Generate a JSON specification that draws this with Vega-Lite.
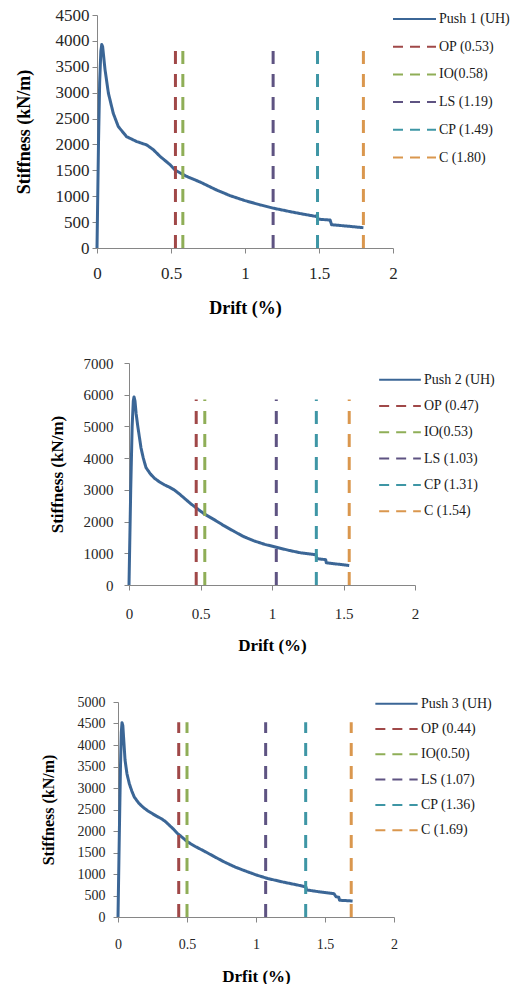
{
  "$schema": "https://vega.github.io/schema/vega-lite/v6.json",
  "padding": {"left": 0, "top": 6, "right": 0, "bottom": 0},
  "background": "white",
  "spacing": 39,
  "config": {
    "view": {"stroke": null},
    "font": "Liberation Serif",
    "axis": {
      "domainColor": "#868686", "tickColor": "#868686", "tickSize": 5, "grid": false,
      "labelColor": "#262626", "titleColor": "#000000",
      "labelFont": "Liberation Serif", "titleFont": "Liberation Serif", "titleFontWeight": "bold",
      "labelFlush": false, "labelOverlap": false, "labelBound": false
    },
    "legend": {
      "labelFont": "Liberation Serif", "labelFontSize": 14, "labelColor": "#1a1a1a",
      "symbolType": "stroke", "symbolSize": 1849, "symbolStrokeWidth": 2,
      "clipHeight": 14, "padding": 0, "labelOffset": 2
    }
  },
  "resolve": {"scale": {"x": "independent", "y": "independent", "color": "independent", "strokeDash": "independent"}},
  "vconcat": [
    {
      "spacing": 0,
      "resolve": {"scale": {"x": "independent", "y": "independent", "color": "independent", "strokeDash": "independent"}},
      "hconcat": [
        {"width": 15, "height": 1, "data": {"values": [{"z": 1}]}, "mark": {"type": "point", "opacity": 0}, "encoding": {}},
        {
          "width": 296, "height": 233,
          "layer": [
            {
              "data": {"values": [
                {"s": "Push 1 (UH)", "d": 0, "k": 0},
                {"s": "Push 1 (UH)", "d": 0.004, "k": 800},
                {"s": "Push 1 (UH)", "d": 0.01, "k": 2000},
                {"s": "Push 1 (UH)", "d": 0.018, "k": 3200},
                {"s": "Push 1 (UH)", "d": 0.026, "k": 3800},
                {"s": "Push 1 (UH)", "d": 0.032, "k": 3930},
                {"s": "Push 1 (UH)", "d": 0.038, "k": 3890},
                {"s": "Push 1 (UH)", "d": 0.045, "k": 3700},
                {"s": "Push 1 (UH)", "d": 0.054, "k": 3450},
                {"s": "Push 1 (UH)", "d": 0.077, "k": 2990},
                {"s": "Push 1 (UH)", "d": 0.11, "k": 2600},
                {"s": "Push 1 (UH)", "d": 0.144, "k": 2345},
                {"s": "Push 1 (UH)", "d": 0.2, "k": 2150},
                {"s": "Push 1 (UH)", "d": 0.268, "k": 2056},
                {"s": "Push 1 (UH)", "d": 0.336, "k": 1990},
                {"s": "Push 1 (UH)", "d": 0.38, "k": 1900},
                {"s": "Push 1 (UH)", "d": 0.426, "k": 1770},
                {"s": "Push 1 (UH)", "d": 0.493, "k": 1610},
                {"s": "Push 1 (UH)", "d": 0.53, "k": 1500},
                {"s": "Push 1 (UH)", "d": 0.6, "k": 1390},
                {"s": "Push 1 (UH)", "d": 0.7, "k": 1270},
                {"s": "Push 1 (UH)", "d": 0.8, "k": 1130},
                {"s": "Push 1 (UH)", "d": 0.9, "k": 1010},
                {"s": "Push 1 (UH)", "d": 1.0, "k": 915},
                {"s": "Push 1 (UH)", "d": 1.1, "k": 835},
                {"s": "Push 1 (UH)", "d": 1.19, "k": 770},
                {"s": "Push 1 (UH)", "d": 1.3, "k": 705},
                {"s": "Push 1 (UH)", "d": 1.4, "k": 650},
                {"s": "Push 1 (UH)", "d": 1.48, "k": 610},
                {"s": "Push 1 (UH)", "d": 1.488, "k": 640},
                {"s": "Push 1 (UH)", "d": 1.492, "k": 570},
                {"s": "Push 1 (UH)", "d": 1.5, "k": 555},
                {"s": "Push 1 (UH)", "d": 1.575, "k": 540},
                {"s": "Push 1 (UH)", "d": 1.585, "k": 450},
                {"s": "Push 1 (UH)", "d": 1.7, "k": 420},
                {"s": "Push 1 (UH)", "d": 1.8, "k": 392}
              ]},
              "mark": {"type": "line", "strokeWidth": 3, "strokeJoin": "round"},
              "encoding": {
                "x": {"field": "d", "type": "quantitative", "scale": {"domain": [0, 2], "nice": false},
                  "axis": {"values": [0, 0.5, 1, 1.5, 2], "format": "~g", "title": "Drift (%)", "labelFont": "Liberation Serif", "titleFont": "Liberation Serif", "labelFontSize": 17, "labelPadding": 12, "titleFontSize": 18, "titlePadding": 18, "labelOverlap": false, "labelFlush": false}},
                "y": {"field": "k", "type": "quantitative", "scale": {"domain": [0, 4500], "nice": false},
                  "axis": {"values": [0, 500, 1000, 1500, 2000, 2500, 3000, 3500, 4000, 4500], "format": "d", "title": "Stiffness (kN/m)", "labelFont": "Liberation Serif", "titleFont": "Liberation Serif", "labelFontSize": 17, "labelPadding": 3, "titleFontSize": 18, "titlePadding": 22, "labelOverlap": false}},
                "color": {"field": "s", "type": "nominal",
                  "scale": {"domain": ["Push 1 (UH)", "OP (0.53)", "IO(0.58)", "LS (1.19)", "CP (1.49)", "C (1.80)"], "range": ["#3b6696", "#a04848", "#8fae57", "#5e5382", "#3e96a5", "#da974e"]},
                  "legend": {"title": null, "orient": "none", "legendX": 295, "legendY": -3, "rowPadding": 13.7}},
                "strokeDash": {"field": "s", "type": "nominal",
                  "scale": {"domain": ["Push 1 (UH)", "OP (0.53)", "IO(0.58)", "LS (1.19)", "CP (1.49)", "C (1.80)"], "range": [[1, 0], [10, 7], [10, 7], [10, 7], [10, 7], [10, 7]]},
                  "legend": {"title": null, "orient": "none", "legendX": 295, "legendY": -3, "rowPadding": 13.7}}
              }
            },
            {
              "data": {"values": [
                {"s": "OP (0.53)", "d": 0.53, "k": 0}, {"s": "OP (0.53)", "d": 0.53, "k": 3950},
                {"s": "IO(0.58)", "d": 0.58, "k": 0}, {"s": "IO(0.58)", "d": 0.58, "k": 3950},
                {"s": "LS (1.19)", "d": 1.19, "k": 0}, {"s": "LS (1.19)", "d": 1.19, "k": 3950},
                {"s": "CP (1.49)", "d": 1.49, "k": 0}, {"s": "CP (1.49)", "d": 1.49, "k": 3950},
                {"s": "C (1.80)", "d": 1.8, "k": 0}, {"s": "C (1.80)", "d": 1.8, "k": 3950}
              ]},
              "mark": {"type": "line", "strokeWidth": 3, "strokeDash": [13, 10]},
              "encoding": {
                "x": {"field": "d", "type": "quantitative",
                  "axis": {"values": [0, 0.5, 1, 1.5, 2], "format": "~g", "title": "Drift (%)", "labelFont": "Liberation Serif", "titleFont": "Liberation Serif", "labelFontSize": 17, "labelPadding": 12, "titleFontSize": 18, "titlePadding": 18, "labelOverlap": false, "labelFlush": false}},
                "y": {"field": "k", "type": "quantitative",
                  "axis": {"values": [0, 500, 1000, 1500, 2000, 2500, 3000, 3500, 4000, 4500], "format": "d", "title": "Stiffness (kN/m)", "labelFont": "Liberation Serif", "titleFont": "Liberation Serif", "labelFontSize": 17, "labelPadding": 3, "titleFontSize": 18, "titlePadding": 22, "labelOverlap": false}},
                "order": {"field": "k", "type": "quantitative"},
                "color": {"field": "s", "type": "nominal"}
              }
            }
          ]
        }
      ]
    },
    {
      "spacing": 42,
      "resolve": {"scale": {"x": "independent", "y": "independent", "color": "independent", "strokeDash": "independent"}},
      "vconcat": [
        {
          "spacing": 0,
          "resolve": {"scale": {"x": "independent", "y": "independent", "color": "independent", "strokeDash": "independent"}},
          "hconcat": [
            {"width": 47.6, "height": 1, "data": {"values": [{"z": 1}]}, "mark": {"type": "point", "opacity": 0}, "encoding": {}},
            {
              "width": 286, "height": 222,
              "layer": [
                {
                  "data": {"values": [
                    {"s": "Push 2 (UH)", "d": 0, "k": 0},
                    {"s": "Push 2 (UH)", "d": 0.004, "k": 1000},
                    {"s": "Push 2 (UH)", "d": 0.012, "k": 3000},
                    {"s": "Push 2 (UH)", "d": 0.022, "k": 5000},
                    {"s": "Push 2 (UH)", "d": 0.03, "k": 5800},
                    {"s": "Push 2 (UH)", "d": 0.035, "k": 5930},
                    {"s": "Push 2 (UH)", "d": 0.042, "k": 5800},
                    {"s": "Push 2 (UH)", "d": 0.05, "k": 5400},
                    {"s": "Push 2 (UH)", "d": 0.06, "k": 5050},
                    {"s": "Push 2 (UH)", "d": 0.084, "k": 4320},
                    {"s": "Push 2 (UH)", "d": 0.1, "k": 4000},
                    {"s": "Push 2 (UH)", "d": 0.119, "k": 3700},
                    {"s": "Push 2 (UH)", "d": 0.15, "k": 3500},
                    {"s": "Push 2 (UH)", "d": 0.177, "k": 3370},
                    {"s": "Push 2 (UH)", "d": 0.21, "k": 3260},
                    {"s": "Push 2 (UH)", "d": 0.247, "k": 3160},
                    {"s": "Push 2 (UH)", "d": 0.28, "k": 3090},
                    {"s": "Push 2 (UH)", "d": 0.316, "k": 3000},
                    {"s": "Push 2 (UH)", "d": 0.35, "k": 2880},
                    {"s": "Push 2 (UH)", "d": 0.386, "k": 2740},
                    {"s": "Push 2 (UH)", "d": 0.43, "k": 2570},
                    {"s": "Push 2 (UH)", "d": 0.47, "k": 2430},
                    {"s": "Push 2 (UH)", "d": 0.53, "k": 2230},
                    {"s": "Push 2 (UH)", "d": 0.596, "k": 2060},
                    {"s": "Push 2 (UH)", "d": 0.66, "k": 1880},
                    {"s": "Push 2 (UH)", "d": 0.735, "k": 1690},
                    {"s": "Push 2 (UH)", "d": 0.8, "k": 1530},
                    {"s": "Push 2 (UH)", "d": 0.875, "k": 1390},
                    {"s": "Push 2 (UH)", "d": 0.95, "k": 1280},
                    {"s": "Push 2 (UH)", "d": 1.03, "k": 1190},
                    {"s": "Push 2 (UH)", "d": 1.12, "k": 1090},
                    {"s": "Push 2 (UH)", "d": 1.2, "k": 1015},
                    {"s": "Push 2 (UH)", "d": 1.3, "k": 960},
                    {"s": "Push 2 (UH)", "d": 1.308, "k": 950},
                    {"s": "Push 2 (UH)", "d": 1.312, "k": 830},
                    {"s": "Push 2 (UH)", "d": 1.375, "k": 800},
                    {"s": "Push 2 (UH)", "d": 1.38, "k": 700},
                    {"s": "Push 2 (UH)", "d": 1.54, "k": 615}
                  ]},
                  "mark": {"type": "line", "strokeWidth": 3, "strokeJoin": "round"},
                  "encoding": {
                    "x": {"field": "d", "type": "quantitative", "scale": {"domain": [0, 2], "nice": false},
                      "axis": {"values": [0, 0.5, 1, 1.5, 2], "format": "~g", "title": "Drift (%)", "labelFont": "Liberation Serif", "titleFont": "Liberation Serif", "labelFontSize": 15, "labelPadding": 16, "titleFontSize": 17, "titlePadding": 16, "labelOverlap": false, "labelFlush": false}},
                    "y": {"field": "k", "type": "quantitative", "scale": {"domain": [0, 7000], "nice": false},
                      "axis": {"values": [0, 1000, 2000, 3000, 4000, 5000, 6000, 7000], "format": "d", "title": "Stiffness (kN/m)", "labelFont": "Liberation Serif", "titleFont": "Liberation Serif", "labelFontSize": 15, "labelPadding": 11, "titleFontSize": 17, "titlePadding": 17, "labelOverlap": false}},
                    "color": {"field": "s", "type": "nominal",
                      "scale": {"domain": ["Push 2 (UH)", "OP (0.47)", "IO(0.53)", "LS (1.03)", "CP (1.31)", "C (1.54)"], "range": ["#3b6696", "#a04848", "#8fae57", "#5e5382", "#3e96a5", "#da974e"]},
                      "legend": {"title": null, "orient": "none", "legendX": 249, "legendY": 9.7, "rowPadding": 12.3, "symbolSize": 1739}},
                    "strokeDash": {"field": "s", "type": "nominal",
                      "scale": {"domain": ["Push 2 (UH)", "OP (0.47)", "IO(0.53)", "LS (1.03)", "CP (1.31)", "C (1.54)"], "range": [[1, 0], [10, 7], [10, 7], [10, 7], [10, 7], [10, 7]]},
                      "legend": {"title": null, "orient": "none", "legendX": 249, "legendY": 9.7, "rowPadding": 12.3, "symbolSize": 1739}}
                  }
                },
                {
                  "data": {"values": [
                    {"s": "OP (0.47)", "d": 0.47, "k": 0}, {"s": "OP (0.47)", "d": 0.47, "k": 5850},
                    {"s": "IO(0.53)", "d": 0.53, "k": 0}, {"s": "IO(0.53)", "d": 0.53, "k": 5850},
                    {"s": "LS (1.03)", "d": 1.03, "k": 0}, {"s": "LS (1.03)", "d": 1.03, "k": 5850},
                    {"s": "CP (1.31)", "d": 1.31, "k": 0}, {"s": "CP (1.31)", "d": 1.31, "k": 5850},
                    {"s": "C (1.54)", "d": 1.54, "k": 0}, {"s": "C (1.54)", "d": 1.54, "k": 5850}
                  ]},
                  "mark": {"type": "line", "strokeWidth": 3, "strokeDash": [13, 10]},
                  "encoding": {
                    "x": {"field": "d", "type": "quantitative",
                      "axis": {"values": [0, 0.5, 1, 1.5, 2], "format": "~g", "title": "Drift (%)", "labelFont": "Liberation Serif", "titleFont": "Liberation Serif", "labelFontSize": 15, "labelPadding": 16, "titleFontSize": 17, "titlePadding": 16, "labelOverlap": false, "labelFlush": false}},
                    "y": {"field": "k", "type": "quantitative",
                      "axis": {"values": [0, 1000, 2000, 3000, 4000, 5000, 6000, 7000], "format": "d", "title": "Stiffness (kN/m)", "labelFont": "Liberation Serif", "titleFont": "Liberation Serif", "labelFontSize": 15, "labelPadding": 11, "titleFontSize": 17, "titlePadding": 17, "labelOverlap": false}},
                    "order": {"field": "k", "type": "quantitative"},
                    "color": {"field": "s", "type": "nominal"}
                  }
                }
              ]
            }
          ]
        },
        {
          "spacing": 0,
          "resolve": {"scale": {"x": "independent", "y": "independent", "color": "independent", "strokeDash": "independent"}},
          "hconcat": [
            {"width": 39.4, "height": 1, "data": {"values": [{"z": 1}]}, "mark": {"type": "point", "opacity": 0}, "encoding": {}},
            {
              "width": 276, "height": 215,
              "layer": [
                {
                  "data": {"values": [
                    {"s": "Push 3 (UH)", "d": 0, "k": 0},
                    {"s": "Push 3 (UH)", "d": 0.004, "k": 800},
                    {"s": "Push 3 (UH)", "d": 0.01, "k": 2000},
                    {"s": "Push 3 (UH)", "d": 0.018, "k": 3500},
                    {"s": "Push 3 (UH)", "d": 0.024, "k": 4300},
                    {"s": "Push 3 (UH)", "d": 0.029, "k": 4520},
                    {"s": "Push 3 (UH)", "d": 0.035, "k": 4450},
                    {"s": "Push 3 (UH)", "d": 0.042, "k": 4100},
                    {"s": "Push 3 (UH)", "d": 0.051, "k": 3650},
                    {"s": "Push 3 (UH)", "d": 0.065, "k": 3330},
                    {"s": "Push 3 (UH)", "d": 0.082, "k": 3100},
                    {"s": "Push 3 (UH)", "d": 0.1, "k": 2930},
                    {"s": "Push 3 (UH)", "d": 0.118, "k": 2790},
                    {"s": "Push 3 (UH)", "d": 0.15, "k": 2650},
                    {"s": "Push 3 (UH)", "d": 0.179, "k": 2560},
                    {"s": "Push 3 (UH)", "d": 0.215, "k": 2470},
                    {"s": "Push 3 (UH)", "d": 0.251, "k": 2400},
                    {"s": "Push 3 (UH)", "d": 0.28, "k": 2345},
                    {"s": "Push 3 (UH)", "d": 0.312, "k": 2290},
                    {"s": "Push 3 (UH)", "d": 0.34, "k": 2230},
                    {"s": "Push 3 (UH)", "d": 0.36, "k": 2170},
                    {"s": "Push 3 (UH)", "d": 0.4, "k": 2050},
                    {"s": "Push 3 (UH)", "d": 0.432, "k": 1940},
                    {"s": "Push 3 (UH)", "d": 0.47, "k": 1840},
                    {"s": "Push 3 (UH)", "d": 0.505, "k": 1745},
                    {"s": "Push 3 (UH)", "d": 0.56, "k": 1640},
                    {"s": "Push 3 (UH)", "d": 0.626, "k": 1530},
                    {"s": "Push 3 (UH)", "d": 0.7, "k": 1400},
                    {"s": "Push 3 (UH)", "d": 0.77, "k": 1280},
                    {"s": "Push 3 (UH)", "d": 0.85, "k": 1160},
                    {"s": "Push 3 (UH)", "d": 0.94, "k": 1050},
                    {"s": "Push 3 (UH)", "d": 1.0, "k": 980},
                    {"s": "Push 3 (UH)", "d": 1.085, "k": 895},
                    {"s": "Push 3 (UH)", "d": 1.2, "k": 810},
                    {"s": "Push 3 (UH)", "d": 1.3, "k": 745},
                    {"s": "Push 3 (UH)", "d": 1.355, "k": 705},
                    {"s": "Push 3 (UH)", "d": 1.362, "k": 700},
                    {"s": "Push 3 (UH)", "d": 1.366, "k": 630},
                    {"s": "Push 3 (UH)", "d": 1.45, "k": 590},
                    {"s": "Push 3 (UH)", "d": 1.565, "k": 543},
                    {"s": "Push 3 (UH)", "d": 1.58, "k": 470},
                    {"s": "Push 3 (UH)", "d": 1.6, "k": 460},
                    {"s": "Push 3 (UH)", "d": 1.605, "k": 390},
                    {"s": "Push 3 (UH)", "d": 1.7, "k": 372}
                  ]},
                  "mark": {"type": "line", "strokeWidth": 3, "strokeJoin": "round"},
                  "encoding": {
                    "x": {"field": "d", "type": "quantitative", "scale": {"domain": [0, 2], "nice": false},
                      "axis": {"values": [0, 0.5, 1, 1.5, 2], "format": "~g", "title": "Drfit (%)", "labelFont": "Liberation Serif", "titleFont": "Liberation Serif", "labelFontSize": 14, "labelPadding": 15, "titleFontSize": 17, "titlePadding": 17, "labelOverlap": false, "labelFlush": false}},
                    "y": {"field": "k", "type": "quantitative", "scale": {"domain": [0, 5000], "nice": false},
                      "axis": {"values": [0, 500, 1000, 1500, 2000, 2500, 3000, 3500, 4000, 4500, 5000], "format": "d", "title": "Stiffness (kN/m)", "labelFont": "Liberation Serif", "titleFont": "Liberation Serif", "labelFontSize": 14, "labelPadding": 8, "titleFontSize": 16, "titlePadding": 21, "labelOverlap": false}},
                    "color": {"field": "s", "type": "nominal",
                      "scale": {"domain": ["Push 3 (UH)", "OP (0.44)", "IO(0.50)", "LS (1.07)", "CP (1.36)", "C (1.69)"], "range": ["#3b6696", "#a04848", "#8fae57", "#5e5382", "#3e96a5", "#da974e"]},
                      "legend": {"title": null, "orient": "none", "legendX": 256, "legendY": -5.3, "rowPadding": 11.3, "symbolSize": 1789}},
                    "strokeDash": {"field": "s", "type": "nominal",
                      "scale": {"domain": ["Push 3 (UH)", "OP (0.44)", "IO(0.50)", "LS (1.07)", "CP (1.36)", "C (1.69)"], "range": [[1, 0], [10, 7], [10, 7], [10, 7], [10, 7], [10, 7]]},
                      "legend": {"title": null, "orient": "none", "legendX": 256, "legendY": -5.3, "rowPadding": 11.3, "symbolSize": 1789}}
                  }
                },
                {
                  "data": {"values": [
                    {"s": "OP (0.44)", "d": 0.44, "k": 0}, {"s": "OP (0.44)", "d": 0.44, "k": 4530},
                    {"s": "IO(0.50)", "d": 0.5, "k": 0}, {"s": "IO(0.50)", "d": 0.5, "k": 4530},
                    {"s": "LS (1.07)", "d": 1.07, "k": 0}, {"s": "LS (1.07)", "d": 1.07, "k": 4530},
                    {"s": "CP (1.36)", "d": 1.36, "k": 0}, {"s": "CP (1.36)", "d": 1.36, "k": 4530},
                    {"s": "C (1.69)", "d": 1.69, "k": 0}, {"s": "C (1.69)", "d": 1.69, "k": 4530}
                  ]},
                  "mark": {"type": "line", "strokeWidth": 3, "strokeDash": [13, 10]},
                  "encoding": {
                    "x": {"field": "d", "type": "quantitative",
                      "axis": {"values": [0, 0.5, 1, 1.5, 2], "format": "~g", "title": "Drfit (%)", "labelFont": "Liberation Serif", "titleFont": "Liberation Serif", "labelFontSize": 14, "labelPadding": 15, "titleFontSize": 17, "titlePadding": 17, "labelOverlap": false, "labelFlush": false}},
                    "y": {"field": "k", "type": "quantitative",
                      "axis": {"values": [0, 500, 1000, 1500, 2000, 2500, 3000, 3500, 4000, 4500, 5000], "format": "d", "title": "Stiffness (kN/m)", "labelFont": "Liberation Serif", "titleFont": "Liberation Serif", "labelFontSize": 14, "labelPadding": 8, "titleFontSize": 16, "titlePadding": 21, "labelOverlap": false}},
                    "order": {"field": "k", "type": "quantitative"},
                    "color": {"field": "s", "type": "nominal"}
                  }
                }
              ]
            }
          ]
        }
      ]
    }
  ]
}
